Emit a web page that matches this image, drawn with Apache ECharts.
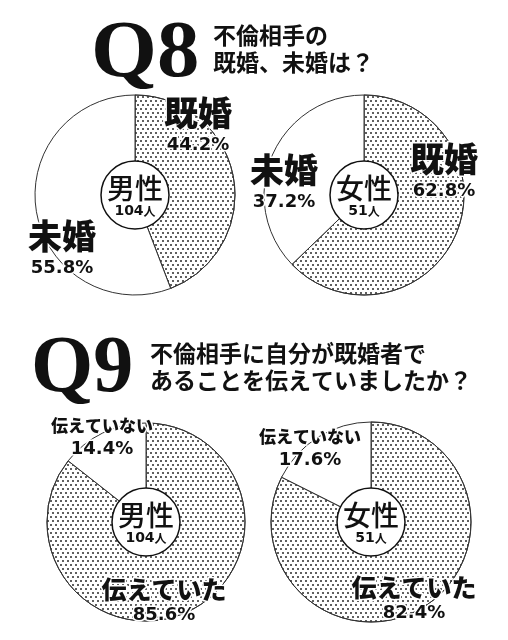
<!DOCTYPE html>
<html>
<head>
<meta charset="utf-8">
<script src="https://cdn.jsdelivr.net/npm/echarts@6/dist/echarts.min.js"></script>
<style>
html, body { margin: 0; padding: 0; background: #fff; }
#main { width: 508px; height: 640px; }
</style>
</head>
<body>
<div id="main"></div>
<script>
// data
var q8Cats = ['既婚', '未婚'];
var q8Male = [44.2, 55.8];
var q8Female = [62.8, 37.2];
var q9Cats = ['伝えていた', '伝えていない'];
var q9Male = [85.6, 14.4];
var q9Female = [82.4, 17.6];
var groups = ['男性', '女性'];
var counts = [104, 51];

var chart = echarts.init(document.getElementById('main'));

// halftone dots for the first slice
var dots = {
    symbol: 'circle',
    symbolSize: 1,
    color: '#2a2a2a',
    dashArrayX: [[1.2, 2.2], [0, 1.7, 1.2, 0.5]],
    dashArrayY: [1.2, 1.8]
};

var nameStyle = { fontFamily: 'Noto Sans CJK JP', fontWeight: 900, color: '#111', align: 'center' };

function makePie(cats, vals, group, count, center, r, labelPos, nameSize) {
    var data = [];
    for (var i = 0; i < cats.length; i++) {
        var item = {
            name: cats[i],
            value: vals[i],
            itemStyle: { color: '#fff' }
        };
        if (i == 0) item.itemStyle.decal = dots;
        data.push(item);
    }
    return [
        {
            type: 'pie',
            center: center,
            radius: [0, r],
            startAngle: 90,
            clockwise: true,
            silent: true,
            itemStyle: { borderColor: '#333', borderWidth: 1 },
            label: {
                show: true,
                position: 'inside',
                textBorderColor: '#fff',
                textBorderWidth: 3,
                formatter: function (p) {
                    return '{' + nameSize[p.dataIndex] + '|' + p.name + '}\n{pct|' + p.value + '%}';
                },
                rich: {
                    big: echarts.util.extend({ fontSize: 34, lineHeight: 38 }, nameStyle),
                    mid: echarts.util.extend({ fontSize: 25, lineHeight: 26 }, nameStyle),
                    small: echarts.util.extend({ fontSize: 17, lineHeight: 20 }, nameStyle),
                    pct: { fontFamily: 'DejaVu Sans', fontWeight: 'bold', fontSize: 18, color: '#111', lineHeight: 26, align: 'center' }
                }
            },
            labelLine: { show: false },
            labelLayout: function (p) {
                var pt = labelPos[p.dataIndex];
                return { x: pt[0], y: pt[1], align: 'center', verticalAlign: 'middle' };
            },
            data: data
        },
        {
            // white disc in the middle
            type: 'pie',
            center: center,
            radius: [0, 34],
            silent: true,
            itemStyle: { color: '#fff', borderColor: '#111', borderWidth: 1.5 },
            label: {
                show: true,
                position: 'center',
                padding: [3, 0, 0, 0],
                formatter: '{g|' + group + '}\n{c|' + count + '}{u|人}',
                rich: {
                    g: { fontFamily: 'Noto Sans CJK JP', fontWeight: 500, fontSize: 28, color: '#111', lineHeight: 30 },
                    c: { fontFamily: 'DejaVu Sans', fontWeight: 'bold', fontSize: 14, color: '#111', lineHeight: 16 },
                    u: { fontFamily: 'Noto Sans CJK JP', fontWeight: 'bold', fontSize: 12, color: '#111', lineHeight: 16 }
                }
            },
            labelLine: { show: false },
            data: [{ name: group, value: 1 }]
        }
    ];
}

var series = [].concat(
    makePie(q8Cats, q8Male, groups[0], counts[0], [135, 195], 100, [[198, 126], [62, 249]], ['big', 'big']),
    makePie(q8Cats, q8Female, groups[1], counts[1], [364, 195], 100, [[444, 172], [284, 183]], ['big', 'big']),
    makePie(q9Cats, q9Male, groups[0], counts[0], [146, 522], 99, [[164, 602], [102, 439]], ['mid', 'small']),
    makePie(q9Cats, q9Female, groups[1], counts[1], [371, 522], 100, [[414, 600], [310, 450]], ['mid', 'small'])
);

var qFont = { fontFamily: 'Liberation Serif', fontWeight: 'bold', fontSize: 80, fill: '#111' };
var subFont = { fontFamily: 'Noto Sans CJK JP', fontWeight: 'bold', fontSize: 23, lineHeight: 27, color: '#111' };

var option = {
    backgroundColor: '#fff',
    animation: false,
    title: [
        { text: '不倫相手の\n既婚、未婚は？', left: 213, top: 22, padding: 0, textStyle: subFont },
        { text: '不倫相手に自分が既婚者で\nあることを伝えていましたか？', left: 150, top: 340, padding: 0, textStyle: subFont }
    ],
    graphic: [
        { type: 'text', x: 91, y: 15, scaleX: 1.06, style: echarts.util.extend({ text: 'Q8' }, qFont) },
        { type: 'text', x: 31, y: 330, scaleX: 1.0, style: echarts.util.extend({ text: 'Q9' }, qFont) }
    ],
    series: series
};
chart.setOption(option);
</script>
</body>
</html>
